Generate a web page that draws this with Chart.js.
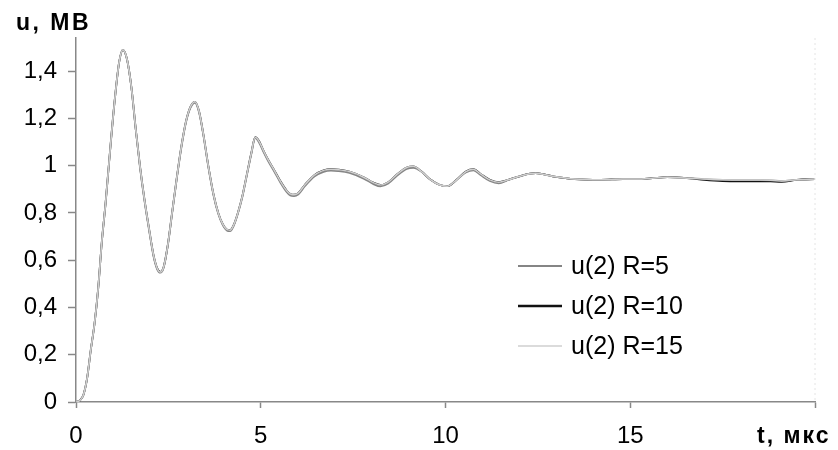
<!DOCTYPE html>
<html lang="ru">
<head>
    <meta charset="UTF-8">
    <title>u(2) при разных R</title>
    <script src="https://cdn.jsdelivr.net/npm/chart.js"></script>
    <style>
        body {
            margin: 0;
            padding: 0;
            background-color: #ffffff;
        }
        #grafico {
            display: block;
        }
    </style>
</head>
<body>
    <canvas id="grafico" width="838" height="450"></canvas>

    <script>
        // Время, мкс
        const tempos = [0, 0.1, 0.2, 0.3, 0.4, 0.5, 0.6, 0.7, 0.8, 0.92, 1.05, 1.17, 1.27, 1.38, 1.5, 1.62, 1.73, 1.85, 1.98, 2.1,
            2.2, 2.28, 2.37, 2.48, 2.6, 2.72, 2.85, 2.98, 3.1, 3.22, 3.33, 3.45, 3.58, 3.72, 3.85, 3.98, 4.08, 4.17, 4.27, 4.38,
            4.5, 4.62, 4.74, 4.85, 4.95, 5.07, 5.2, 5.35, 5.53, 5.7, 5.8, 5.9, 6.02, 6.2, 6.45, 6.7, 6.9, 7.1, 7.4, 7.8,
            8.05, 8.24, 8.45, 8.7, 8.95, 9.13, 9.35, 9.6, 9.85, 10.05, 10.3, 10.55, 10.76, 10.95, 11.2, 11.44, 11.7, 12.0, 12.44, 12.9,
            13.5, 14.2, 14.8, 15.2, 15.6, 16.0, 16.6, 17.0, 17.5, 18.0, 18.5, 18.8, 19.1, 19.5, 20];

        // u(2), МВ
        const uR15 = [0, 0.006, 0.03, 0.1, 0.22, 0.33, 0.48, 0.68, 0.84, 1.06, 1.28, 1.44, 1.49, 1.45, 1.33, 1.15, 1.0, 0.86, 0.73, 0.62,
            0.565, 0.55, 0.57, 0.66, 0.8, 0.94, 1.08, 1.19, 1.25, 1.27, 1.23, 1.13, 1.0, 0.88, 0.8, 0.75, 0.73, 0.727, 0.75, 0.8,
            0.87, 0.96, 1.05, 1.12, 1.105, 1.065, 1.025, 0.985, 0.935, 0.895, 0.88, 0.877, 0.885, 0.92, 0.96, 0.98, 0.985, 0.983, 0.975, 0.95,
            0.928, 0.918, 0.93, 0.965, 0.992, 0.997, 0.975, 0.94, 0.918, 0.913, 0.94, 0.975, 0.985, 0.965, 0.94, 0.93, 0.94, 0.955, 0.968, 0.955,
            0.943, 0.94, 0.943, 0.943, 0.947, 0.951, 0.947, 0.943, 0.94, 0.939, 0.939, 0.938, 0.935, 0.94, 0.943];

        const uR5 = [0, 0.006, 0.03, 0.1, 0.22, 0.33, 0.48, 0.68, 0.84, 1.06, 1.28, 1.44, 1.49, 1.45, 1.33, 1.15, 0.995, 0.855, 0.725, 0.615,
            0.56, 0.547, 0.567, 0.657, 0.797, 0.937, 1.075, 1.185, 1.245, 1.266, 1.226, 1.126, 0.996, 0.876, 0.796, 0.746, 0.726, 0.723, 0.746, 0.796,
            0.866, 0.956, 1.046, 1.116, 1.099, 1.059, 1.019, 0.979, 0.929, 0.889, 0.874, 0.871, 0.879, 0.914, 0.954, 0.974, 0.979, 0.977, 0.969, 0.944,
            0.922, 0.912, 0.924, 0.959, 0.986, 0.991, 0.975, 0.94, 0.918, 0.913, 0.94, 0.971, 0.98, 0.96, 0.935, 0.925, 0.94, 0.955, 0.968, 0.955,
            0.943, 0.94, 0.943, 0.943, 0.947, 0.951, 0.947, 0.943, 0.94, 0.939, 0.939, 0.938, 0.935, 0.94, 0.943];

        const uR10 = [0, 0.006, 0.03, 0.1, 0.22, 0.33, 0.48, 0.68, 0.84, 1.06, 1.28, 1.44, 1.49, 1.45, 1.33, 1.15, 1.0, 0.86, 0.73, 0.62,
            0.565, 0.55, 0.57, 0.66, 0.8, 0.94, 1.08, 1.19, 1.25, 1.27, 1.23, 1.13, 1.0, 0.88, 0.8, 0.75, 0.73, 0.727, 0.75, 0.8,
            0.87, 0.96, 1.05, 1.12, 1.105, 1.065, 1.025, 0.985, 0.935, 0.895, 0.88, 0.877, 0.885, 0.92, 0.96, 0.98, 0.985, 0.983, 0.975, 0.95,
            0.928, 0.918, 0.93, 0.965, 0.992, 0.997, 0.975, 0.94, 0.918, 0.913, 0.94, 0.975, 0.985, 0.965, 0.94, 0.93, 0.94, 0.955, 0.968, 0.955,
            0.943, 0.94, 0.943, 0.943, 0.947, 0.951, 0.946, 0.94, 0.935, 0.934, 0.934, 0.933, 0.931, 0.94, 0.943];

        const rotulos = ['u(2) R=5', 'u(2) R=10', 'u(2) R=15'];
        const marcasY = [0, 0.2, 0.4, 0.6, 0.8, 1, 1.2, 1.4];

        const fonte = 'Arial, "Liberation Sans", sans-serif';

        function pontos(valores) {
            return tempos.map((t, i) => ({ x: t, y: valores[i] }));
        }

        // legenda desenhada dentro da área do gráfico
        const legendaInterna = {
            id: 'legendaInterna',
            afterDraw(chart) {
                const ctx = chart.ctx;
                const larguras = [2, 2.5, 1.5];
                ctx.save();
                ctx.font = '25px ' + fonte;
                ctx.textBaseline = 'middle';
                chart.data.datasets.forEach((ds, i) => {
                    const y = 266 + i * 40;
                    ctx.strokeStyle = ds.borderColor;
                    ctx.lineWidth = larguras[i];
                    ctx.beginPath();
                    ctx.moveTo(518, y);
                    ctx.lineTo(562, y);
                    ctx.stroke();
                    ctx.fillStyle = '#000';
                    ctx.fillText(ds.label, 571, y + 1);
                });
                ctx.restore();
            }
        };

        // títulos dos eixos
        const titulosEixos = {
            id: 'titulosEixos',
            afterDraw(chart) {
                const ctx = chart.ctx;
                const area = chart.chartArea;
                ctx.save();
                // borda direita bem clara
                ctx.strokeStyle = '#e4e4e4';
                ctx.lineWidth = 1;
                ctx.setLineDash([2, 3]);
                ctx.beginPath();
                ctx.moveTo(area.right, area.top);
                ctx.lineTo(area.right, area.bottom);
                ctx.stroke();
                ctx.setLineDash([]);

                ctx.fillStyle = '#000';
                ctx.textBaseline = 'middle';
                ctx.font = 'bold 23px ' + fonte;
                ctx.letterSpacing = '2.5px';
                ctx.fillText('u, MB', 16, 24);
                ctx.letterSpacing = '2px';
                ctx.fillText('t, мкс', 757, 437);
                ctx.restore();
            }
        };

        const ctx = document.getElementById('grafico').getContext('2d');

        new Chart(ctx, {
            type: 'line',
            data: {
                datasets: [
                    {
                        label: rotulos[0],
                        data: pontos(uR5),
                        borderColor: '#858585',
                        borderWidth: 1.8,
                        order: 2
                    },
                    {
                        label: rotulos[1],
                        data: pontos(uR10),
                        borderColor: '#111111',
                        borderWidth: 1.8,
                        order: 3
                    },
                    {
                        label: rotulos[2],
                        data: pontos(uR15),
                        borderColor: '#cfcfcf',
                        borderWidth: 1.5,
                        order: 1
                    }
                ]
            },
            options: {
                responsive: false,
                animation: false,
                elements: {
                    point: { radius: 0 },
                    line: { cubicInterpolationMode: 'monotone' }
                },
                layout: {
                    padding: { left: 0, right: 23, top: 38, bottom: 0 }
                },
                plugins: {
                    legend: { display: false },
                    tooltip: { enabled: false }
                },
                scales: {
                    x: {
                        type: 'linear',
                        min: 0,
                        max: 20,
                        ticks: {
                            stepSize: 5,
                            padding: 14,
                            color: '#000',
                            font: { family: fonte, size: 24 },
                            maxRotation: 0,
                            callback: v => (v === 20 ? '' : String(v))
                        },
                        grid: {
                            drawOnChartArea: false,
                            tickLength: 6,
                            color: '#888',
                            tickWidth: 1.5
                        },
                        border: { color: '#888', width: 1.5 },
                        afterFit: s => { s.height = 48; }
                    },
                    y: {
                        min: 0,
                        max: 1.54,
                        afterBuildTicks: s => {
                            s.ticks = marcasY.map(v => ({ value: v }));
                        },
                        ticks: {
                            padding: 11,
                            color: '#000',
                            font: { family: fonte, size: 24 },
                            callback: v => String(Math.round(v * 10) / 10).replace('.', ',')
                        },
                        grid: {
                            drawOnChartArea: false,
                            tickLength: 8,
                            color: '#888',
                            tickWidth: 1.5
                        },
                        border: { color: '#888', width: 1.5 },
                        afterFit: s => { s.width = 76; }
                    }
                }
            },
            plugins: [legendaInterna, titulosEixos]
        });
    </script>
</body>
</html>
